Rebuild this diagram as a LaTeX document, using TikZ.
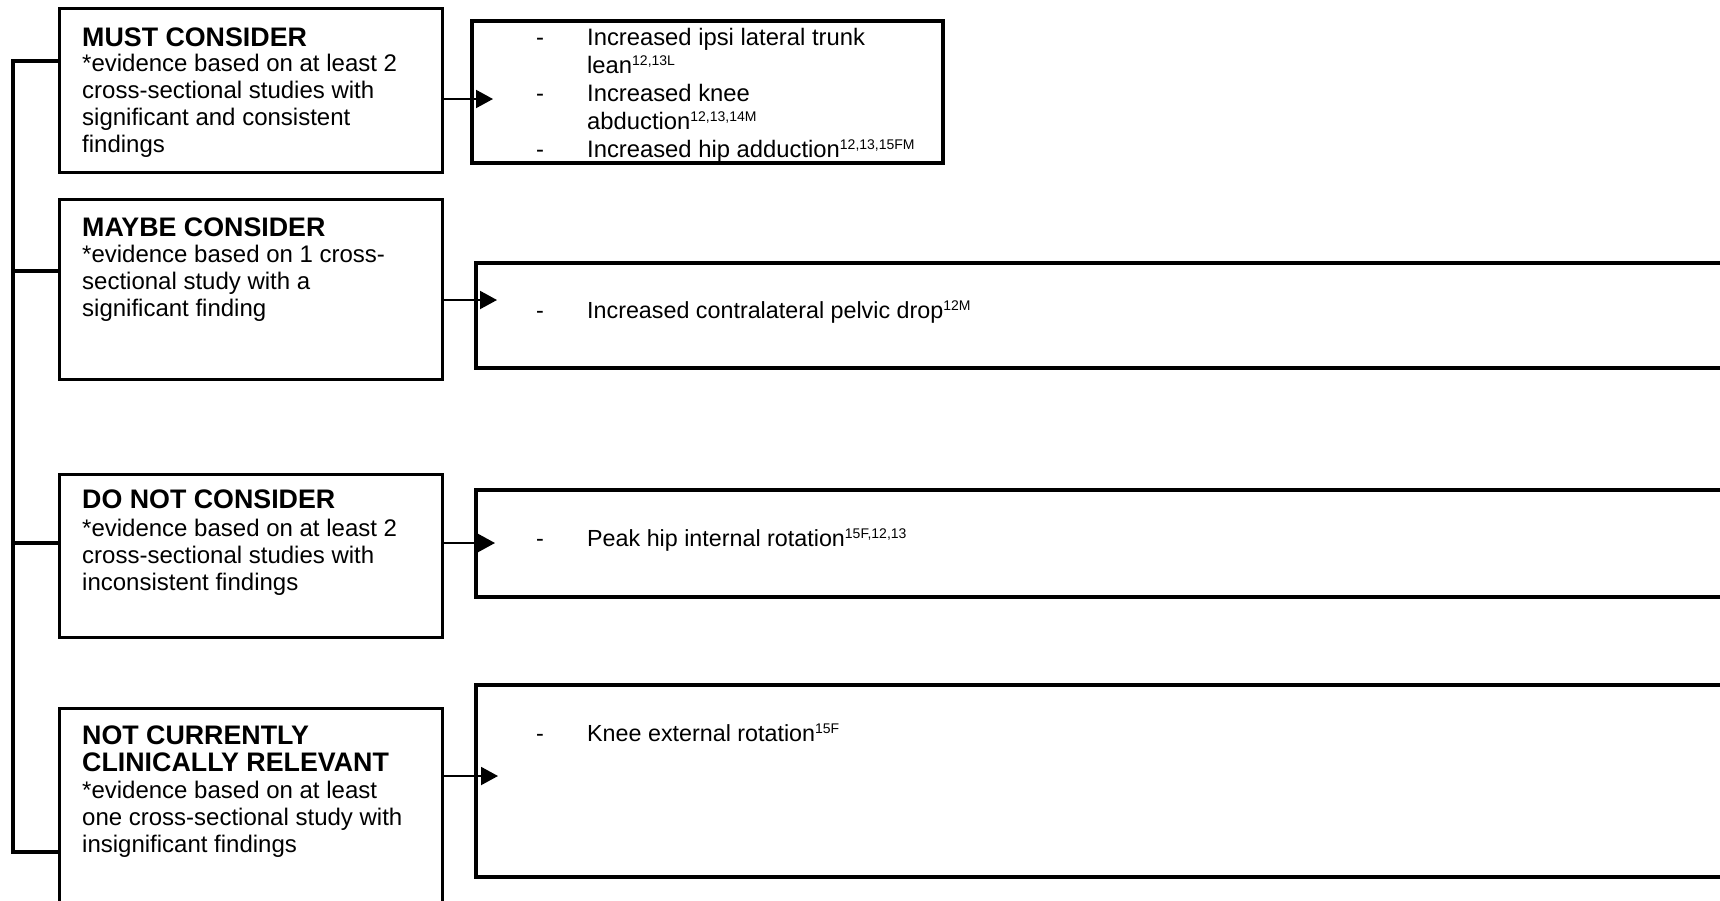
\documentclass[tikz,border=0pt]{standalone}
\usepackage{fontspec}
\setmainfont{Liberation Sans}
\usetikzlibrary{arrows.meta}
\usetikzlibrary{positioning}
\tikzset{catbox/.style={draw=black, line width=3pt, rectangle, anchor=north west, inner sep=0pt, outer sep=0pt, minimum width=383pt},
findbox/.style={draw=black, line width=4.5pt, rectangle, anchor=north west, inner sep=0pt, outer sep=0pt},
cattext/.style={align=left, inner sep=0pt, font=\fontsize{24}{27}\selectfont},
findtext/.style={align=left, inner sep=0pt, font=\fontsize{23.3}{28}\selectfont},
link/.style={line width=3.5pt},
feed/.style={line width=2pt, -{Triangle[length=17pt,width=18pt]}}}
\newcommand{\cathead}[1]{{\fontsize{26.8}{27}\selectfont\bfseries #1}}
\newcommand{\refsup}[1]{\raisebox{0.33em}{\fontsize{14}{14}\selectfont #1}}
\newcommand{\dashitem}{\makebox[51pt][l]{-}}

\begin{document}
\begin{tikzpicture}[x=1pt,y=-1pt]
\useasboundingbox (0,0) rectangle (1720,900);

% categories
\node[catbox, minimum height=164pt] (must) at (59,8) {};
\node[catbox, minimum height=180pt] (maybe) at (59,199) {};
\node[catbox, minimum height=163pt] (donot) at (59,474) {};
\node[catbox, minimum height=212pt] (notcur) at (59,708) {};

\node[cattext, below right=20pt and 23pt of must.north west] (musttxt) {\cathead{MUST CONSIDER}\\[-2pt]
*evidence based on at least 2\\ cross-sectional studies with\\ significant and consistent\\ findings};
\node[cattext, below right=19pt and 23pt of maybe.north west] (maybetxt) {\cathead{MAYBE CONSIDER}\\[-1pt]
*evidence based on 1 cross-\\ sectional study with a\\ significant finding};
\node[cattext, below right=16pt and 23pt of donot.north west] (donottxt) {\cathead{DO NOT CONSIDER}\\[1pt]
*evidence based on at least 2\\ cross-sectional studies with\\ inconsistent findings};
\node[cattext, below right=18pt and 23pt of notcur.north west] (notcurtxt) {\cathead{NOT CURRENTLY}\\
\cathead{CLINICALLY RELEVANT}\\ *evidence based on at least\\ one cross-sectional study with\\ insignificant findings};

% findings
\node[findbox, minimum width=471pt, minimum height=142pt] (mustfind) at (472,21) {};
\node[findbox, minimum width=1264pt, minimum height=105pt] (maybefind) at (476,263) {};
\node[findbox, minimum width=1264pt, minimum height=107pt] (donotfind) at (476,490) {};
\node[findbox, minimum width=1264pt, minimum height=192pt] (notcurfind) at (476,685) {};

\node[findtext, font=\fontsize{23.8}{28}\selectfont, anchor=north west] (musttxt2) at (536,28) {\dashitem Increased ipsi lateral trunk\\
\hspace*{51pt}lean\refsup{12,13L}\\ \dashitem Increased knee\\ \hspace*{51pt}abduction\refsup{12,13,14M}\\
\dashitem Increased hip adduction\refsup{12,13,15FM}};
\node[findtext, anchor=base west] (maybetxt2) at (536,318) {\dashitem Increased contralateral pelvic drop\refsup{12M}};
\node[findtext, anchor=base west] (donottxt2) at (536,546) {\dashitem Peak hip internal rotation\refsup{15F,12,13}};
\node[findtext, anchor=base west] (notcurtxt2) at (536,741) {\dashitem Knee external rotation\refsup{15F}};

% bracket
\coordinate (b1) at (13,61);
\coordinate (b2) at (13,271);
\coordinate (b3) at (13,543);
\coordinate (b4) at (13,852);
\draw[link] (b1 -| must.west) -- (b1) -- (b4) -- (b4 -| notcur.west);
\draw[link] (b2) -- (b2 -| maybe.west);
\draw[link] (b3) -- (b3 -| donot.west);

% arrows
\coordinate (t1) at (493,99);
\coordinate (t2) at (497,300);
\coordinate (t3) at (495,543);
\coordinate (t4) at (498,776);
\draw[feed] (t1 -| must.east) -- (t1);
\draw[feed] (t2 -| maybe.east) -- (t2);
\draw[feed] (t3 -| donot.east) -- (t3);
\draw[feed] (t4 -| notcur.east) -- (t4);

\end{tikzpicture}
\end{document}
